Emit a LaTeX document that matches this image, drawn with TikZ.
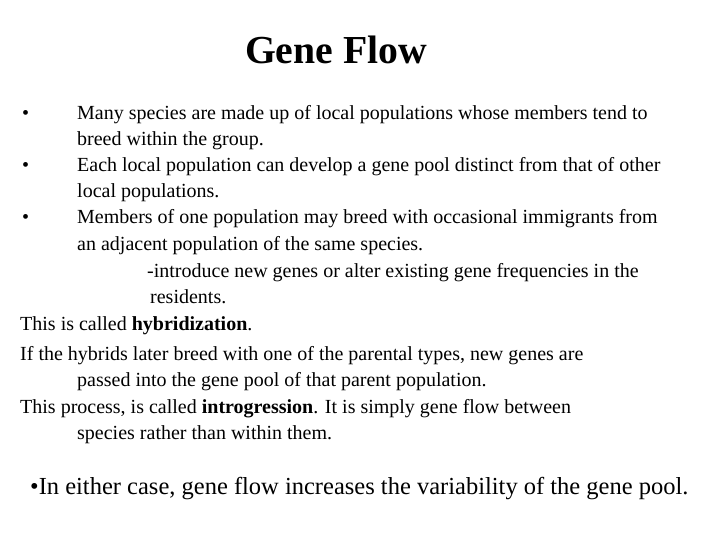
\documentclass[tikz,border=0pt]{standalone}
\usepackage{fontspec}
\setmainfont{Liberation Serif}
\begin{document}
\begin{tikzpicture}[x=1pt,y=-1pt,
 ln/.style={anchor=base west,inner sep=0pt,font=\fontsize{20}{22}\selectfont}]
\useasboundingbox[fill=white] (0,0) rectangle (720,540);
\node[anchor=base,inner sep=0pt,font=\fontsize{39.7}{44}\selectfont\bfseries] (t) at (336,64) {Gene Flow};
\node[ln] (b1) at (22,120) {•};
\node[ln] (l1) at (77,120) {Many species are made up of local populations whose members tend to};
\node[ln] (l2) at (77,146) {breed within the group.};
\node[ln] (b2) at (22,172) {•};
\node[ln] (l3) at (77,172) {Each local population can develop a gene pool distinct from that of other};
\node[ln] (l4) at (77,198) {local populations.};
\node[ln] (b3) at (22,224) {•};
\node[ln] (l5) at (77,224) {Members of one population may breed with occasional immigrants from};
\node[ln] (l6) at (77,250) {an adjacent population of the same species.};
\node[ln] (l7) at (147,277) {-introduce new genes or alter existing gene frequencies in the};
\node[ln] (l8) at (150,303) {residents.};
\node[ln] (l9) at (20,330) {This is called \textbf{hybridization}.};
\node[ln] (l10) at (20,360) {If the hybrids later breed with one of the parental types, new genes are};
\node[ln] (l11) at (77,386) {passed into the gene pool of that parent population.};
\node[ln] (l12) at (20,413) {This process, is called \textbf{introgression}. It is simply gene flow between};
\node[ln] (l13) at (77,439) {species rather than within them.};
\node[anchor=base west,inner sep=0pt,font=\fontsize{24.5}{28}\selectfont] (l14) at (30,494) {•In either case, gene flow increases the variability of the gene pool.};
\end{tikzpicture}
\end{document}
